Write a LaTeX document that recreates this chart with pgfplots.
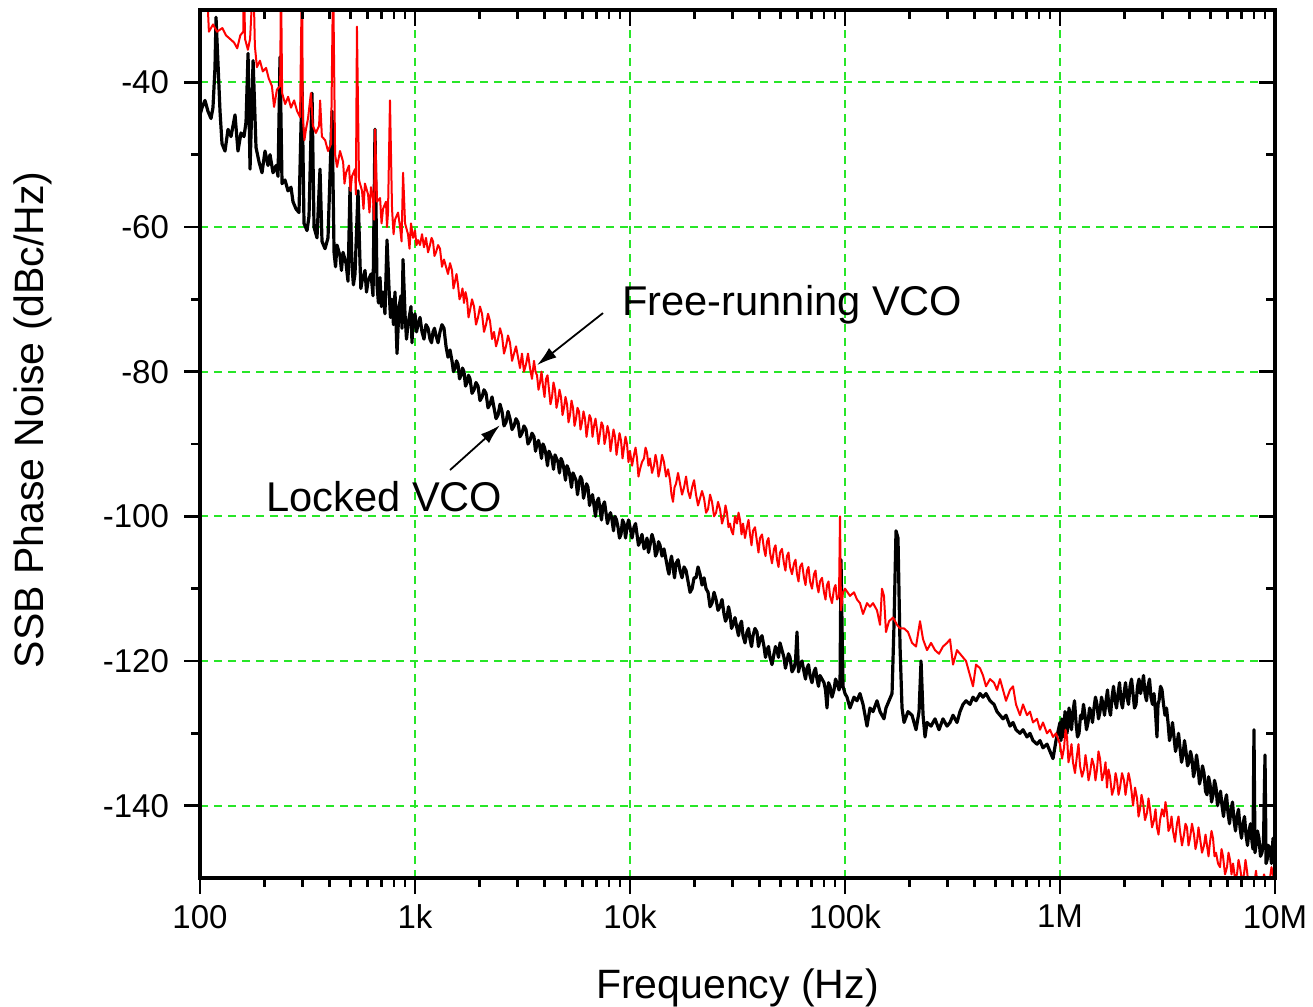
\documentclass[border=0pt]{standalone}
\usepackage{fontspec}
\setmainfont{Liberation Sans}
\usepackage{pgfplots}
\usepackage{pgfplotstable}
\pgfplotsset{compat=1.18}
\usetikzlibrary{arrows.meta}

\definecolor{gridgreen}{RGB}{40,230,40}
\definecolor{curvered}{RGB}{255,0,0}

% free-running VCO
\pgfplotstableread{
f dB
107 -25
110 -33
115 -32
120 -33
127 -32.5
132 -33.5
138 -34
144 -34.5
149 -35.3
154 -33.5
159 -33
160 -25
162 -34
167 -35.5
171 -34
177 -25
180 -35
184 -37.9
190 -37
196 -38.5
203 -38
209 -39.5
216 -40.5
221 -43.4
228 -41
236 -40.5
238 -25
241 -41.5
249 -43
257 -42
265 -43.5
274 -42.5
283 -44
292 -44.8
298 -25
301 -45
306 -48
311 -46.5
318 -45
328 -41.5
335 -46
346 -47
358 -46
362 -42.5
369 -47.5
382 -48
394 -49.5
407 -48.5
416 -25
425 -50
434 -51.7
448 -49.5
463 -51
470 -54
478 -52.5
493 -51.5
501 -55
509 -53
526 -52
531 -55.5
537 -32.3
549 -53.5
567 -55
576 -57.5
585 -54
605 -55.5
614 -58
624 -54.5
638 -56
645 -59
652 -46.5
666 -56.5
688 -56
699 -59.5
710 -57.5
733 -56.5
741 -60
749 -58
765 -42.5
782 -57.5
795 -61
807 -59
834 -58
852 -60
866 -62
880 -52.5
899 -59.5
928 -61
943 -63
958 -59.5
979 -61.5
1000 -60.5
1016 -62.5
1033 -61.8
1055 -62.5
1078 -61
1101 -62.8
1125 -61.5
1150 -63.5
1174 -62.5
1194 -61.5
1213 -62
1232 -64
1252 -63.5
1280 -62.5
1307 -63
1335 -65.5
1364 -64.5
1394 -65.5
1424 -66.5
1455 -65
1486 -66
1510 -68.5
1535 -67.5
1560 -66.5
1585 -68
1611 -70
1637 -69.5
1663 -68.5
1690 -70.5
1718 -69
1746 -70
1774 -72.5
1803 -71.5
1842 -70
1882 -71
1922 -73.5
1964 -72.5
2006 -71
2050 -72
2094 -74.5
2140 -73.5
2186 -72
2233 -73
2282 -75.5
2331 -74.5
2382 -76.5
2433 -75.5
2486 -74
2539 -75
2594 -77.5
2650 -76.5
2708 -75
2766 -76
2827 -78.5
2888 -77.5
2950 -76.5
3014 -78
3079 -79.5
3145 -77.5
3213 -80
3283 -79
3354 -77.5
3427 -79.5
3501 -81
3577 -78.5
3635 -80
3694 -80.5
3754 -82.5
3815 -81.5
3877 -80
3939 -82
4003 -83.5
4068 -81
4134 -80.5
4201 -82.5
4268 -84.5
4337 -83.5
4408 -81.5
4479 -82.5
4551 -85
4625 -84
4700 -82.5
4777 -83.5
4854 -86
4932 -85
5012 -83.5
5093 -84.5
5176 -87
5260 -86
5345 -84
5432 -85
5520 -87.5
5609 -86.5
5700 -85
5792 -85.5
5886 -88
5981 -87
6078 -85.5
6176 -86.5
6277 -89
6378 -87.5
6482 -86
6586 -86.5
6693 -89
6801 -87.5
6911 -86.5
7023 -88
7137 -90
7253 -88.5
7370 -87
7489 -87.5
7611 -90
7734 -89
7859 -87.5
7986 -88.5
8116 -91
8247 -89.5
8381 -88
8517 -89
8655 -91.5
8795 -90
8937 -88.5
9082 -89.5
9230 -92
9379 -90.5
9530 -89
9684 -90
9840 -92.5
10000 -91
10220 -93
10440 -91.5
10610 -90.5
10780 -92
10950 -94.5
11130 -93.5
11370 -92.5
11620 -92
11810 -90.5
12000 -91.2
12190 -93
12390 -92
12660 -94
12930 -93
13140 -91.5
13350 -92.5
13570 -94.5
13790 -93.5
14090 -91.5
14390 -92.5
14710 -94.5
15030 -93.5
15350 -95
15600 -97
15850 -98
16110 -96
16370 -95.5
16730 -94
17090 -95.5
17460 -97
17840 -96
18230 -94.5
18620 -96.5
19030 -97.5
19440 -96
19860 -95
20280 -97
20720 -98.5
21170 -97.5
21630 -96.5
22100 -97.5
22580 -99.5
23070 -99
23570 -97
24070 -98
24600 -100
25130 -99.5
25670 -98
26220 -99
26790 -101
27370 -100
27810 -98.5
28250 -99.5
28720 -101.5
29190 -101
29660 -102
30140 -102.5
30790 -100
31450 -101
31970 -99.5
32490 -100.5
33020 -102.5
33550 -101
34270 -103
35000 -101.5
35580 -100.5
36160 -102.5
36750 -104
37340 -102
38140 -101.5
38960 -103.5
39600 -105
40240 -103
41110 -102.5
42000 -104.5
42680 -105.5
43370 -103.5
44070 -103
44790 -105
45760 -106.5
46750 -104.5
47510 -104
48280 -106
49060 -107
49860 -105
50920 -104.5
52000 -106.5
52840 -107.5
53700 -105.5
54590 -105
55490 -107
56690 -108
57920 -106.5
58860 -106
59810 -108
60780 -109
61760 -107
63100 -106.5
64470 -108.5
65510 -109.5
66570 -107.5
67650 -107
68750 -109
70230 -110
71750 -108
72920 -107.5
74100 -109.5
75300 -110.5
76510 -109
78170 -108.5
79860 -110.5
81150 -111.5
82470 -109.5
83810 -109
85170 -111
87010 -112
88900 -110
90340 -109.5
91800 -111.5
93790 -111
94790 -100
95800 -113
97880 -110.5
100000 -110
105500 -111
110100 -110.5
113700 -111.5
117400 -112
121300 -113.5
126600 -112
130700 -112.5
135000 -112
140900 -113
145500 -115
148600 -110
151800 -111
155100 -116
160200 -114.5
167300 -114
174600 -115
180300 -115.5
188200 -115.5
196400 -116
205000 -117.5
214000 -118
223300 -114.5
230700 -117
240700 -118.5
251300 -117.5
262200 -118.5
273700 -119
285600 -118
298200 -117.5
307900 -117
318000 -120.5
331900 -118.5
342700 -119
353900 -119.5
365500 -120
381500 -122
393900 -123.5
406800 -120.5
424600 -121
438400 -122
452700 -123.5
472600 -122.5
493200 -123
509300 -124
526000 -122.5
543200 -124
560900 -125.5
585400 -124
604500 -123.5
624200 -126
651600 -127.5
672900 -126
702300 -127.5
725300 -127
748900 -128.5
781700 -128
807200 -129.5
833500 -128.5
870000 -130
898500 -129.5
927800 -130.5
958000 -130
1000000 -131.5
1022000 -133.5
1044000 -132
1061000 -129.5
1078000 -130.5
1095000 -134
1113000 -133
1131000 -131.5
1149000 -134
1174000 -135.5
1200000 -133
1219000 -131.5
1239000 -134.5
1266000 -136
1293000 -135
1314000 -133
1335000 -134.5
1357000 -136.5
1379000 -135.5
1409000 -133.5
1439000 -134.5
1462000 -136.5
1486000 -135
1510000 -132.5
1535000 -133.5
1568000 -136.5
1602000 -135.5
1628000 -134
1654000 -137.5
1681000 -135
1709000 -136
1746000 -138.5
1784000 -137.5
1813000 -135.5
1842000 -136.5
1872000 -138.5
1902000 -137.5
1943000 -135.5
1985000 -136.5
2017000 -138.5
2050000 -137
2083000 -135.5
2117000 -136.5
2151000 -138
2186000 -140
2234000 -137.5
2282000 -139
2319000 -141.5
2356000 -140.5
2394000 -138.5
2433000 -139.5
2485000 -142
2539000 -141
2580000 -139
2622000 -140.5
2679000 -143
2737000 -142
2781000 -140.5
2825000 -143
2872000 -144
2919000 -142
2982000 -140.5
3046000 -141.5
3095000 -139.5
3145000 -141
3196000 -143.5
3249000 -143
3302000 -141.5
3355000 -143.5
3427000 -145
3500000 -142.5
3558000 -141.5
3616000 -143.5
3694000 -145.5
3773000 -144
3834000 -142.5
3896000 -143
3960000 -145.5
4024000 -144.5
4111000 -142.5
4200000 -144
4268000 -146
4337000 -145
4407000 -143
4479000 -144.5
4576000 -146.5
4675000 -145.5
4751000 -144
4828000 -145.5
4907000 -147
4986000 -145
5067000 -143.5
5149000 -144.5
5232000 -147
5317000 -146.5
5432000 -148
5549000 -148.5
5640000 -146
5731000 -147
5855000 -149.5
5981000 -148.5
6078000 -146.5
6176000 -147.5
6276000 -149.5
6378000 -148
6516000 -150
6657000 -149.5
6766000 -147.5
6875000 -148.5
7024000 -150.5
7175000 -149.5
7291000 -147.5
7410000 -149
7530000 -151
7651000 -150.5
7817000 -152
7985000 -151
8160000 -149
8330000 -151.5
8515000 -152
8700000 -151
8890000 -149.5
9080000 -150.5
9280000 -152
9480000 -150
9630000 -148.5
9790000 -149.5
10000000 -151
}\freetab

% locked VCO
\pgfplotstableread{
f dB
100 -44.5
102.2 -43.5
105.5 -42.5
108.9 -44
112.5 -45
114.9 -43.5
117.4 -38
118.7 -31
121.3 -37.5
123.9 -44
126.6 -48.5
130.7 -49.5
135.0 -46.5
139.4 -47.5
145.5 -44.5
150.2 -49.5
155.1 -47
160.2 -47.5
163.7 -45.5
167.3 -36
170.9 -52
176.6 -37
182.2 -49
188.2 -51
194.3 -52.5
200.6 -49.5
207.2 -51.5
211.7 -50
218.6 -52.5
225.8 -51.5
230.7 -53
235.6 -36.5
240.7 -54
248.5 -53.5
256.6 -55
265.0 -54.5
270.7 -56.5
279.6 -57.5
288.7 -58
298.2 -40
304.6 -59.5
314.6 -60.5
321.4 -58.5
331.9 -41.5
339.1 -60
350.1 -61.5
361.6 -52
369.4 -62
381.5 -63
393.9 -61.5
411.2 -44
420.2 -63.5
427 -65.5
433.8 -62.5
447.9 -64
455 -66
462.6 -63.5
477.7 -65
488 -67.5
498.6 -54.5
509.4 -65.5
517 -68
526.0 -66.5
543.2 -55
555.0 -65
560 -68.5
566.9 -67.5
585.4 -66
595 -69
604.5 -67.5
624.2 -66.5
638 -69.5
651.6 -46.5
665.7 -68
676 -70.5
687.5 -67
698 -71
709.9 -69
725 -72
741.0 -61.8
757.0 -68.5
769 -72.5
781.7 -70
794 -73.5
807.2 -69
824.8 -77.5
842.6 -71
860.9 -69.5
870 -74
879.5 -64.5
898.5 -72
913 -75.5
927.8 -73.5
958.0 -71
968 -76
978.8 -73
1000 -72
1016 -74.5
1033 -73.5
1055 -72.5
1078 -74.5
1101 -75.5
1125 -73.5
1150 -74
1174 -75.5
1194 -76
1213 -74.5
1232 -74
1252 -75
1280 -76
1307 -74.5
1335 -73.5
1364 -74
1394 -76.5
1424 -78
1455 -77
1486 -78.5
1510 -80
1535 -79.5
1560 -78.5
1585 -79
1611 -81
1637 -80.5
1663 -79.5
1690 -80
1718 -82
1746 -81.5
1774 -80.5
1803 -81
1842 -83
1882 -82.5
1922 -81.5
1964 -82
2006 -84
2050 -83.5
2094 -82.5
2140 -83
2186 -85
2233 -84.5
2282 -83.5
2331 -85
2382 -86.5
2433 -86
2486 -84.5
2539 -85.5
2594 -87.5
2650 -87
2708 -85.5
2766 -86.5
2827 -88
2888 -87.5
2950 -86.5
3014 -87
3079 -89
3145 -88.5
3213 -87.5
3283 -88
3354 -90
3427 -89.5
3501 -88.5
3577 -89
3635 -91
3694 -90
3754 -89.5
3815 -90.5
3877 -92
3939 -90
4003 -90.5
4068 -91.5
4134 -93
4201 -91
4268 -91.5
4337 -92
4408 -93.5
4479 -91.5
4551 -92
4625 -92.5
4700 -94
4777 -92
4854 -92.5
4932 -93.5
5012 -95
5093 -93
5176 -93.5
5260 -94.5
5345 -96
5432 -94
5520 -94.5
5609 -95
5700 -97
5792 -95.5
5886 -94.5
5981 -95
6078 -97.5
6176 -96.5
6277 -95.5
6378 -96
6482 -98.5
6586 -97.5
6693 -97
6801 -98.5
6911 -100
7023 -98
7137 -97.5
7253 -99
7370 -100.5
7489 -98.5
7611 -98
7734 -99.5
7859 -101
7986 -100
8116 -99.5
8247 -100.5
8381 -102
8517 -100
8655 -100.5
8795 -101.5
8937 -103
9082 -102.5
9230 -100.5
9379 -101
9530 -103
9684 -101.5
9840 -100.5
10000 -101.5
10220 -103
10440 -101.5
10610 -101
10780 -102.5
10950 -104
11130 -103.5
11370 -102.5
11620 -104.5
11810 -104
12000 -103
12190 -105
12390 -104
12660 -102.5
12930 -103.5
13140 -105.5
13350 -105
13570 -103.5
13790 -104
14090 -105.5
14390 -104.5
14710 -106
15030 -107.5
15190 -108
15350 -106.5
15600 -105.5
15850 -107
16110 -108.5
16370 -106.5
16730 -106
17090 -107.5
17460 -108.5
17840 -107
18230 -107.5
18620 -109
19030 -110.5
19440 -110
19860 -108.5
20280 -108.5
20720 -107
21170 -108
21630 -109.5
22100 -108.5
22580 -110
23070 -110.5
23570 -112.5
24070 -112
24600 -110.5
25130 -111.5
25670 -113
26220 -112.5
26790 -111.5
27370 -113.5
27810 -114.5
28250 -114
28720 -112.5
29190 -113.5
29660 -115.5
30140 -115
30790 -114
31450 -115.5
31970 -116.5
32490 -115
33020 -114.5
33550 -116.5
34270 -117.5
35000 -116
35580 -115.5
36160 -117
36750 -118
37340 -116.5
38140 -115.5
38960 -116
39600 -118
40240 -117
41110 -116.5
42000 -118
42680 -119.5
43370 -118.5
44070 -118
44790 -119.5
45760 -120.5
46750 -119
47510 -118
48280 -118.5
49060 -119.5
49860 -117.5
50920 -118.5
52000 -119.5
52840 -121
53700 -120
54590 -119
55490 -119.5
56690 -121.5
57920 -121
58860 -120
59810 -116
60780 -121.5
61760 -120.5
63100 -120
64470 -121.5
65510 -122.5
66570 -121
67650 -120.5
68750 -122
70230 -123
71750 -121.5
72920 -121
74100 -122.5
75300 -123.5
76510 -122
78170 -122.5
79860 -123
81150 -124
82470 -126.5
83810 -123
85170 -123.5
87010 -125
88900 -124
90340 -122.5
91800 -123
93790 -124
94790 -123.5
95800 -106
97880 -123.5
100000 -124.5
102200 -125
105500 -126.5
110100 -125
113700 -125.5
117400 -124.5
121300 -126
126600 -129
130700 -126.5
135000 -127
140900 -125.5
145500 -127
151800 -128
155100 -126.5
160200 -125.5
165500 -124.5
169000 -115
172700 -102
176400 -103
180300 -118
184200 -126.5
188200 -128.5
196400 -127
205000 -127.5
214000 -129.5
221000 -127
225800 -120
230700 -127.5
235600 -130.5
240700 -128.5
251300 -129
262200 -128
273700 -129.5
285600 -128
298200 -129
307900 -128.5
318000 -127.5
331900 -128.5
342700 -127
353900 -126
365500 -125.5
381500 -126
393900 -125
406800 -125.5
424600 -124.5
438400 -125
452700 -124.5
472600 -125.5
493200 -126
509300 -127
526000 -127.5
543200 -128
560900 -127.5
585400 -129
604500 -128.5
624200 -129.5
651600 -130
672900 -129.5
702300 -130.5
725300 -130
748900 -131
781700 -131.5
807200 -131
833500 -132
870000 -131.5
898500 -132.5
927800 -133.5
958000 -131
1000000 -128.5
1010000 -131
1021000 -128
1032000 -130.5
1044000 -129.5
1055000 -127
1066000 -127.5
1077000 -130
1089000 -129
1101000 -126.5
1113000 -127.5
1131000 -129.5
1149000 -127
1168000 -125.5
1187000 -128.5
1206000 -130.5
1226000 -130
1246000 -127.5
1266000 -128
1286000 -126
1307000 -127.5
1328000 -129.5
1350000 -128.5
1372000 -126.5
1394000 -127
1416000 -128.5
1439000 -126.5
1462000 -125
1486000 -126
1510000 -128
1535000 -127
1560000 -125
1585000 -126
1611000 -127.5
1637000 -125.5
1663000 -124
1690000 -126.5
1718000 -127.5
1746000 -125
1774000 -123.5
1803000 -125.5
1832000 -126.5
1862000 -124.5
1892000 -123
1922000 -125.5
1953000 -126.5
1985000 -124.5
2017000 -123
2050000 -125
2083000 -126
2117000 -123.5
2151000 -122.5
2186000 -124.5
2221000 -126.5
2257000 -126
2294000 -123.5
2331000 -122.5
2369000 -124.5
2407000 -123.5
2446000 -122
2485000 -124.5
2525000 -125.5
2566000 -123.5
2608000 -122.5
2650000 -125
2693000 -126
2737000 -124.5
2780000 -127
2825000 -130.5
2856000 -126
2888000 -125.5
2935000 -123.5
2982000 -124
3030000 -126
3079000 -127.5
3129000 -126.5
3180000 -128.5
3231000 -131
3283000 -130
3336000 -128.5
3390000 -130.5
3445000 -132.5
3500000 -131.5
3558000 -130
3616000 -132
3675000 -134
3734000 -133
3794000 -131
3855000 -132.5
3918000 -134.5
3981000 -134
4045000 -132.5
4110000 -133.5
4178000 -136
4246000 -135
4314000 -133
4383000 -134.5
4454000 -137
4526000 -136
4600000 -134.5
4675000 -135.5
4751000 -138
4828000 -138.5
4907000 -136
4986000 -137
5067000 -139.5
5149000 -138.5
5232000 -136.5
5317000 -137.5
5403000 -140
5490000 -139
5579000 -138
5670000 -140
5762000 -141.5
5854000 -139.5
5949000 -138.5
6045000 -141
6143000 -142.5
6242000 -140.5
6343000 -139.5
6447000 -142
6551000 -143.5
6657000 -141.5
6765000 -140.5
6875000 -143
6986000 -144.5
7099000 -142.5
7214000 -141.5
7331000 -144
7450000 -145.5
7570000 -143.5
7692000 -142.5
7817000 -145
7900000 -146
7985000 -129.5
8070000 -146.5
8160000 -145.5
8290000 -143.5
8420000 -144.5
8560000 -147
8700000 -146.5
8840000 -145
8985000 -133
9090000 -148
9190000 -147.5
9330000 -145.5
9480000 -146
9630000 -148
9790000 -144.5
10000000 -147
}\lockedtab

\begin{document}
\begin{tikzpicture}
\pgfplotsset{
  every axis/.append style={
    scale only axis, width=537.5pt, height=434pt,
    xmode=log, xmin=100, xmax=1e7, ymin=-150, ymax=-30,
    xtick={1e2,1e3,1e4,1e5,1e6,1e7},
    minor xtick={200,300,400,500,600,700,800,900,
      2000,3000,4000,5000,6000,7000,8000,9000,
      2e4,3e4,4e4,5e4,6e4,7e4,8e4,9e4,
      2e5,3e5,4e5,5e5,6e5,7e5,8e5,9e5,
      2e6,3e6,4e6,5e6,6e6,7e6,8e6,9e6},
    ytick={-140,-120,-100,-80,-60,-40},
    minor ytick={-130,-110,-90,-70,-50},
    major tick length=8pt, minor tick length=4.5pt,
    every tick/.style={black, line width=1.3pt},
    axis line style={line width=1.6pt},
  }
}
\begin{axis}[
  xtick pos=bottom, ytick pos=left, tick align=outside,
  xticklabels={100,1k,10k,100k,1M,10M},
  yticklabels={-140,-120,-100,-80,-60,-40},
  ticklabel style={font=\fontsize{16.5}{19}\selectfont},
  yticklabel style={xshift=-4pt},
  xticklabel style={yshift=-2pt},
  grid=major,
  major grid style={gridgreen, line width=0.9pt, dash pattern=on 4pt off 3pt},
  xlabel={Frequency (Hz)},
  ylabel={SSB Phase Noise (dBc/Hz)},
  label style={font=\fontsize{20.5}{24}\selectfont},
  xlabel style={at={(axis description cs:0.5,0)}, anchor=base, yshift=-60pt},
  ylabel style={at={(axis description cs:0,0.528)}, anchor=center, yshift=83.5pt},
]
\addplot[black, line width=1.6pt, line join=round] table[x=f, y=dB] {\lockedtab};
\addplot[curvered, line width=1pt, line join=round] table[x=f, y=dB] {\freetab};

\draw[line width=0.9pt, -{Latex[length=10pt, width=6pt]}] (axis cs:7489,-71.9) -- (axis cs:3694,-79.1);
\draw[line width=0.9pt, -{Latex[length=10pt, width=6pt]}] (axis cs:1455,-93.6) -- (axis cs:2485,-87.4);
\node[anchor=base west, inner sep=0pt, font=\fontsize{20.8}{24}\selectfont] at (axis cs:9180,-72.2) {Free-running VCO};
\node[anchor=base west, inner sep=0pt, font=\fontsize{20.8}{24}\selectfont] at (axis cs:202.8,-99.4) {Locked VCO};

\coordinate (sw) at (rel axis cs:0,0);
\coordinate (ne) at (rel axis cs:1,1);
\end{axis}
\begin{axis}[
  xtick pos=top, ytick pos=right, tick align=inside,
  xticklabels={}, yticklabels={},
]
\end{axis}
\pgfresetboundingbox
\path ([shift={(-100pt,-64.5pt)}]sw) rectangle ([shift={(19pt,5pt)}]ne);
\end{tikzpicture}
\end{document}
